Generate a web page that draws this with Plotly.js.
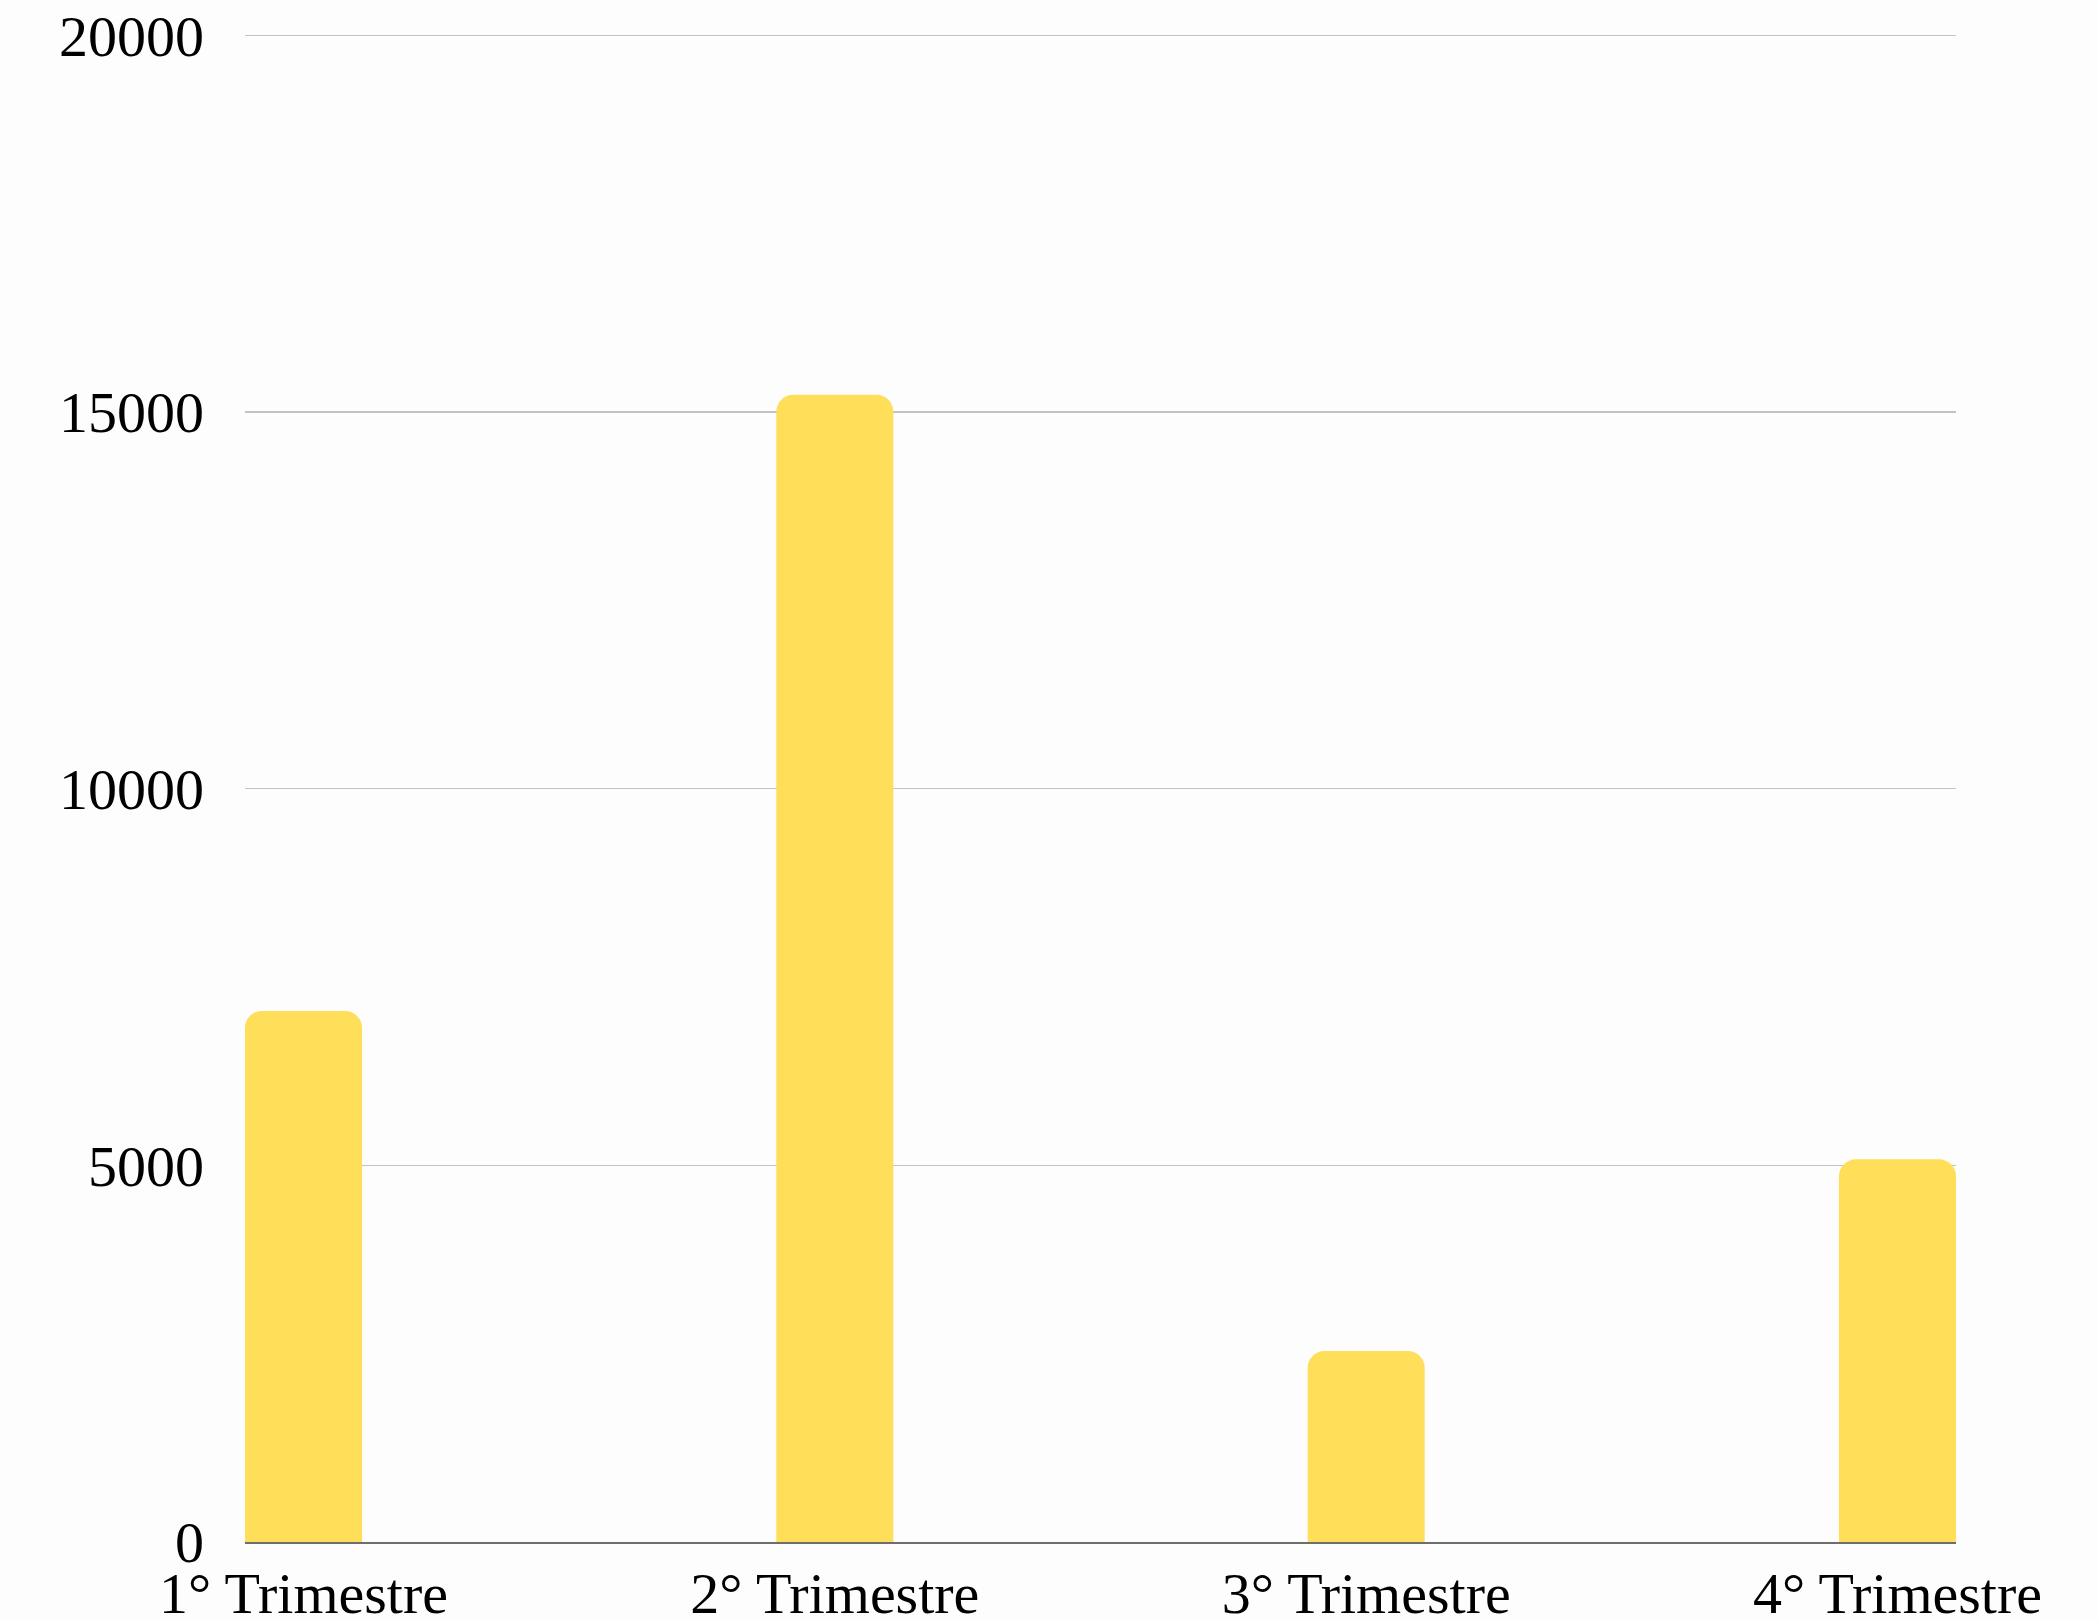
<!DOCTYPE html>
<html>
<head>
<meta charset="utf-8">
<script src="https://cdn.plot.ly/plotly-3.0.1.min.js"></script>
<style>html,body{margin:0;padding:0;background:#fdfdfd;}#chart{width:2098px;height:1621px;}</style>
</head>
<body>
<div id="chart"></div>
<script>
const categories = ["1° Trimestre", "2° Trimestre", "3° Trimestre", "4° Trimestre"];
const values = [7050, 15230, 2535, 5080];
const yTickVals = [0, 5000, 10000, 15000, 20000];
const yTickText = ["0", "5000", "10000", "15000", "20000"];

const fontFamily = '"Liberation Serif", "DejaVu Serif", serif';

Plotly.newPlot('chart', [{
  type: 'bar',
  x: categories,
  y: values,
  marker: {color: '#FFDE59', cornerradius: 17, line: {width: 0}},
  hoverinfo: 'x+y'
}], {
  width: 2098,
  height: 1621,
  margin: {l: 245, r: 142.3, t: 33.8, b: 79.3, pad: 0},
  paper_bgcolor: '#fdfdfd',
  plot_bgcolor: '#fdfdfd',
  bargap: 0.7797,
  showlegend: false,
  xaxis: {
    type: 'category',
    range: [-0.1101, 3.1101],
    showgrid: false,
    zeroline: false,
    showline: true,
    linecolor: '#6e6e6e',
    linewidth: 1.5,
    ticks: '',
    ticklabelstandoff: 0,
    tickfont: {family: fontFamily, size: 58, color: '#000000'},
    fixedrange: true
  },
  yaxis: {
    range: [0, 20020],
    tickmode: 'array',
    tickvals: yTickVals,
    ticktext: yTickText,
    showgrid: true,
    gridcolor: '#c3c3c3',
    gridwidth: 1.3,
    zeroline: false,
    showline: false,
    ticks: '',
    ticklabelstandoff: 40,
    tickfont: {family: fontFamily, size: 58, color: '#000000'},
    fixedrange: true
  }
}, {displayModeBar: false, staticPlot: true});
</script>
</body>
</html>
